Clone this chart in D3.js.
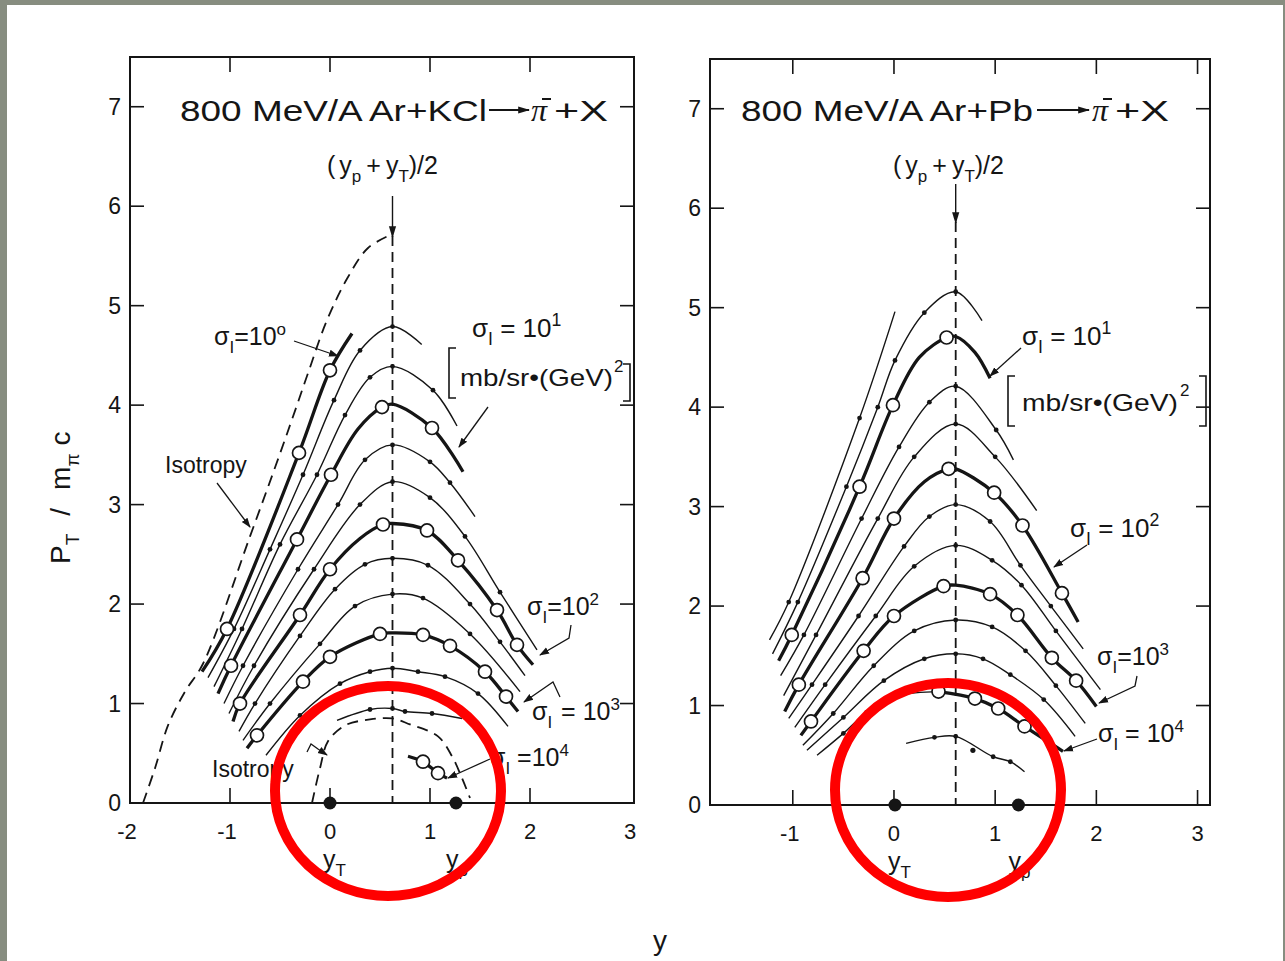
<!DOCTYPE html>
<html><head><meta charset="utf-8">
<script src="https://cdn.jsdelivr.net/npm/d3@7"></script>
<style>
body{margin:0;background:#fff;}
svg{display:block;}
text{font-family:'Liberation Sans',Arial,sans-serif;fill:#151515;}
</style>
</head><body>
<svg id="c" width="1285" height="961"></svg>
<script>
// ---------------- DATA ----------------
const yTicks=[0,1,2,3,4,5,6,7];
const leftXTicks=[-2,-1,0,1,2,3];
const rightXTicks=[-1,0,1,2,3];
const leftFrameXTicks=[-1,0,1,2];
const rightFrameXTicks=[-1,0,1,2,3];
const leftMid=0.625, rightMid=0.61;
const leftBeam=[0,1.26], rightBeam=[0.01,1.23];

// left panel: Ar+KCl  (y, pT/m c)
const L_iso=[[-1.87,0],[-1.75,0.35],[-1.62,0.78],[-1.45,1.12],[-1.27,1.4],[-0.8,2.68],[-0.54,3.4],[-0.375,3.87],[-0.21,4.35],[-0.04,4.83],[0.17,5.27],[0.38,5.58],[0.625,5.72]];
const L_iso2=[[-0.18,0],[-0.1,0.35],[-0.02,0.62],[0.15,0.78],[0.4,0.84],[0.625,0.85],[0.8,0.79],[1.08,0.67],[1.22,0.47],[1.32,0.25],[1.4,0.05]];
const L_T0=[[-1.28,1.32],[-1.03,1.75],[-0.31,3.52],[0,4.35],[0.22,4.72]];
const L_c479=[[-1.22,1.26],[-0.96,1.75],[-0.6,2.55],[-0.27,3.3],[0.04,4.05],[0.3,4.55],[0.625,4.79],[0.917,4.61]];
const L_c439=[[-1.16,1.17],[-0.88,1.75],[-0.5,2.6],[-0.13,3.3],[0.15,3.9],[0.4,4.28],[0.625,4.39],[1.03,4.15],[1.27,3.79]];
const L_T1=[[-1.12,1.1],[-0.99,1.38],[-0.33,2.65],[0.01,3.3],[0.28,3.76],[0.52,3.98],[0.625,4.01],[1.02,3.77],[1.33,3.33]];
const L_c360=[[-1.06,1.0],[-0.87,1.38],[-0.32,2.35],[0.08,3.0],[0.35,3.45],[0.625,3.60],[1.0,3.43],[1.2,3.22],[1.45,2.88]];
const L_c323=[[-1.01,0.9],[-0.76,1.38],[-0.16,2.35],[0.3,3.0],[0.625,3.23],[1.0,3.07],[1.35,2.68],[1.7,2.12],[2.07,1.54]];
const L_T2=[[-0.97,0.82],[-0.9,1.0],[-0.3,1.89],[0,2.35],[0.3,2.66],[0.53,2.80],[0.625,2.81],[0.97,2.74],[1.28,2.44],[1.67,1.94],[1.87,1.59],[2.03,1.39]];
const L_c246=[[-0.91,0.72],[-0.75,1.0],[-0.3,1.68],[0.05,2.15],[0.35,2.4],[0.625,2.46],[0.98,2.39],[1.4,2.0],[1.7,1.62],[1.95,1.28]];
const L_c209=[[-0.87,0.63],[-0.6,1.0],[-0.1,1.6],[0.25,1.98],[0.625,2.10],[0.93,2.06],[1.4,1.7],[1.9,1.12]];
const L_T3=[[-0.83,0.55],[-0.73,0.68],[-0.27,1.22],[0,1.47],[0.5,1.70],[0.625,1.71],[0.93,1.69],[1.2,1.58],[1.55,1.32],[1.76,1.07],[1.88,0.92]];
const L_c134=[[-0.64,0.48],[-0.3,0.88],[0.1,1.2],[0.4,1.32],[0.625,1.355],[0.88,1.32],[1.15,1.27],[1.48,1.10],[1.78,0.77]];
const L_c094=[[0.07,0.83],[0.4,0.94],[0.625,0.95],[0.75,0.92],[1.02,0.90],[1.32,0.85]];
const L_T4=[[0.78,0.47],[0.93,0.415],[1.08,0.30],[1.17,0.25]];
const L_open=[[-1.03,1.75],[-0.31,3.52],[0,4.35],
  [-0.99,1.38],[-0.33,2.65],[0.01,3.3],[0.52,3.98],[1.02,3.77],
  [-0.9,1.0],[-0.3,1.89],[0,2.35],[0.53,2.80],[0.97,2.74],[1.28,2.44],[1.67,1.94],[1.87,1.59],
  [-0.73,0.68],[-0.27,1.22],[0,1.47],[0.5,1.70],[0.93,1.69],[1.2,1.58],[1.55,1.32],[1.76,1.07],
  [0.93,0.415],[1.08,0.30]];

// right panel: Ar+Pb
const R_L0=[[-1.23,1.66],[-1.04,2.04],[-0.34,3.89],[0.01,4.96]];
const R_c516=[[-1.2,1.52],[-0.95,2.04],[-0.47,3.2],[-0.16,4.0],[0.01,4.47],[0.3,4.95],[0.61,5.16],[0.87,4.87]];
const R_T1=[[-1.14,1.45],[-1.01,1.71],[-0.34,3.2],[-0.01,4.02],[0.25,4.5],[0.52,4.70],[0.61,4.71],[0.8,4.55],[0.95,4.29]];
const R_c421=[[-1.12,1.3],[-0.89,1.71],[-0.32,2.88],[0.05,3.6],[0.35,4.05],[0.61,4.21],[1.01,3.77],[1.18,3.47]];
const R_c383=[[-1.09,1.1],[-0.77,1.71],[-0.16,2.88],[0.2,3.5],[0.61,3.83],[1.0,3.5],[1.41,2.96]];
const R_T2=[[-1.08,0.94],[-0.94,1.21],[-0.31,2.28],[0,2.88],[0.3,3.25],[0.54,3.38],[0.61,3.38],[0.99,3.14],[1.27,2.81],[1.66,2.13],[1.82,1.84]];
const R_c302=[[-1.04,0.87],[-0.81,1.21],[-0.35,1.9],[0.1,2.6],[0.35,2.9],[0.61,3.02],[0.95,2.85],[1.25,2.41],[1.55,2.0],[1.87,1.57]];
const R_c261=[[-0.98,0.78],[-0.68,1.21],[-0.18,1.9],[0.2,2.4],[0.61,2.61],[0.97,2.46],[1.26,2.21],[1.6,1.75],[2.04,1.16]];
const R_T3=[[-0.92,0.70],[-0.82,0.84],[-0.30,1.55],[0,1.90],[0.49,2.20],[0.61,2.21],[0.95,2.12],[1.22,1.91],[1.56,1.48],[1.80,1.25],[2.0,0.99]];
const R_c187=[[-0.9,0.6],[-0.6,0.92],[-0.2,1.4],[0.2,1.75],[0.61,1.86],[0.97,1.79],[1.3,1.55],[1.6,1.2],[1.89,0.82]];
const R_c153=[[-0.86,0.55],[-0.5,0.88],[-0.1,1.25],[0.3,1.47],[0.61,1.52],[0.88,1.47],[1.15,1.31],[1.48,1.06],[1.79,0.69]];
const R_c114=[[-0.76,0.5],[-0.5,0.72],[-0.27,0.93],[0.05,1.1],[0.44,1.14]];
const R_T4=[[0.44,1.14],[0.8,1.07],[1.03,0.97],[1.29,0.79],[1.67,0.54]];
const R_c069=[[0.12,0.62],[0.4,0.68],[0.61,0.69],[0.98,0.485],[1.15,0.435],[1.29,0.335]];
const R_extra=[[0.78,0.55]];
const R_open=[[-1.01,1.71],[-0.34,3.2],[-0.01,4.02],[0.52,4.70],
  [-0.94,1.21],[-0.31,2.28],[0,2.88],[0.54,3.38],[0.99,3.14],[1.27,2.81],[1.66,2.13],
  [-0.82,0.84],[-0.30,1.55],[0,1.90],[0.49,2.20],[0.95,2.12],[1.22,1.91],[1.56,1.48],[1.80,1.25],
  [0.44,1.14],[0.8,1.07],[1.03,0.97],[1.29,0.79]];

// ---------------- DRAW ----------------
const svg=d3.select('#c');
const INK='#151515';
svg.append('rect').attr('width',1285).attr('height',961).attr('fill','#878d80');
svg.append('rect').attr('x',7).attr('y',5).attr('width',1276).attr('height',956).attr('fill','#fff');

const defs=svg.append('defs');
defs.append('marker').attr('id','ah').attr('viewBox','0 0 10 10').attr('refX',9).attr('refY',5)
  .attr('markerWidth',10).attr('markerHeight',10).attr('markerUnits','userSpaceOnUse').attr('orient','auto')
  .append('path').attr('d','M0,1.5 L10,5 L0,8.5 Z').attr('fill',INK);
defs.append('marker').attr('id','ahB').attr('viewBox','0 0 10 10').attr('refX',9).attr('refY',5)
  .attr('markerWidth',12).attr('markerHeight',12).attr('markerUnits','userSpaceOnUse').attr('orient','auto')
  .append('path').attr('d','M0,2 L10,5 L0,8 Z').attr('fill',INK);

function rich(x,y,size,parts,opts={}){
  const t=svg.append('text').attr('x',x).attr('y',y).attr('font-size',size);
  if(opts.anchor) t.attr('text-anchor',opts.anchor);
  if(opts.transform) t.attr('transform',opts.transform);
  if(opts.ls!==undefined) t.attr('letter-spacing',opts.ls);
  let cur=0;
  parts.forEach(p=>{
    const [s,type,ex]=p;
    const off= type==='sub'? size*0.32 : type==='sup'? -size*0.42 : 0;
    const ts=t.append('tspan').attr('dy',off-cur).text(s);
    if(type==='sub'||type==='sup') ts.attr('font-size',size*0.68);
    if(ex){ if(ex.dx!==undefined) ts.attr('dx',ex.dx); if(ex.family) ts.style('font-family',ex.family); if(ex.italic) ts.attr('font-style','italic'); if(ex.size) ts.attr('font-size',ex.size);}
    cur=off;
  });
  return t;
}
function arrow(pts,marker='ah',w=1.3){
  svg.append('path').attr('d',d3.line()(pts)).attr('fill','none').attr('stroke',INK).attr('stroke-width',w).attr('marker-end',`url(#${marker})`);
}

function panel(cfg){
  const x=d3.scaleLinear().domain(cfg.xd).range(cfg.xr);
  const y=d3.scaleLinear().domain([0,7.5]).range(cfg.yr);
  const g=svg.append('g');
  const [x0,x1]=cfg.xr, [yb,yt]=cfg.yr;
  yTicks.filter(v=>v>0).forEach(v=>{
    g.append('line').attr('x1',x0).attr('x2',x0+14).attr('y1',y(v)).attr('y2',y(v)).attr('stroke',INK).attr('stroke-width',1.6);
    g.append('line').attr('x1',x1-14).attr('x2',x1).attr('y1',y(v)).attr('y2',y(v)).attr('stroke',INK).attr('stroke-width',1.6);
  });
  cfg.frameTicks.forEach(v=>{
    g.append('line').attr('x1',x(v)).attr('x2',x(v)).attr('y1',yt).attr('y2',yt+15).attr('stroke',INK).attr('stroke-width',1.6);
    g.append('line').attr('x1',x(v)).attr('x2',x(v)).attr('y1',yb).attr('y2',yb-15).attr('stroke',INK).attr('stroke-width',1.6);
  });
  g.append('rect').attr('x',x0).attr('y',yt).attr('width',x1-x0).attr('height',yb-yt).attr('fill','none').attr('stroke',INK).attr('stroke-width',2);
  yTicks.forEach(v=>{
    g.append('text').attr('x',x0-9).attr('y',y(v)+8).attr('text-anchor','end').attr('font-size',23).text(v);
  });
  cfg.xLabels.forEach(v=>{
    g.append('text').attr('x',x(v)+(v<0?-3:0)).attr('y',yb+36).attr('text-anchor','middle').attr('font-size',22).text(v<0?'-'+Math.abs(v):v);
  });
  g.append('line').attr('x1',x(cfg.mid)).attr('x2',x(cfg.mid)).attr('y1',cfg.dashTop).attr('y2',yb)
   .attr('stroke',INK).attr('stroke-width',1.8).attr('stroke-dasharray','10,6');
  arrow([[x(cfg.mid),cfg.arrowTop],[x(cfg.mid),cfg.dashTop+1]],'ahB',1.4);
  const line=d3.line().x(d=>x(d[0])).y(d=>y(d[1])).curve(d3.curveCatmullRom.alpha(0.5));
  cfg.curves.forEach(([pts,style])=>{
    const p=g.append('path').attr('d',line(pts)).attr('fill','none').attr('stroke',INK);
    if(style==='thick') p.attr('stroke-width',3.3);
    else if(style==='dash') p.attr('stroke-width',1.8).attr('stroke-dasharray','11,7');
    else p.attr('stroke-width',1.4);
    if(style==='thin'){
      g.selectAll(null).data(pts.slice(1,-1)).enter().append('circle')
        .attr('cx',d=>x(d[0])).attr('cy',d=>y(d[1])).attr('r',2.4).attr('fill',INK);
    }
  });
  g.selectAll(null).data(cfg.extraDots||[]).enter().append('circle')
    .attr('cx',d=>x(d[0])).attr('cy',d=>y(d[1])).attr('r',2.6).attr('fill',INK);
  g.selectAll(null).data(cfg.open).enter().append('circle')
    .attr('cx',d=>x(d[0])).attr('cy',d=>y(d[1])).attr('r',6.5).attr('fill','#fff').attr('stroke',INK).attr('stroke-width',1.7);
  g.selectAll(null).data(cfg.beam).enter().append('circle')
    .attr('cx',d=>x(d)).attr('cy',y(0)).attr('r',6.5).attr('fill',INK);
  rich(x(cfg.beam[0])-7,yb+65,25,[['y','n'],['T','sub']],{anchor:'start'});
  rich(x(cfg.beam[1])-10,yb+65,25,[['y','n'],['p','sub']],{anchor:'start'});
  return {x,y};
}

const L=panel({xd:[-2,3.04],xr:[130,634],yr:[803,57],frameTicks:leftFrameXTicks,xLabels:leftXTicks,
  mid:leftMid,dashTop:236,arrowTop:196,beam:leftBeam,open:L_open,
  curves:[[L_iso,'dash'],[L_iso2,'dash'],[L_T0,'thick'],[L_c479,'thin'],[L_c439,'thin'],[L_T1,'thick'],
    [L_c360,'thin'],[L_c323,'thin'],[L_T2,'thick'],[L_c246,'thin'],[L_c209,'thin'],[L_T3,'thick'],
    [L_c134,'thin'],[L_c094,'thin'],[L_T4,'thick']]});
const R=panel({xd:[-1.818,3.123],xr:[710,1210],yr:[805,59],frameTicks:rightFrameXTicks,xLabels:rightXTicks,
  mid:rightMid,dashTop:222,arrowTop:184,beam:rightBeam,open:R_open,extraDots:R_extra,
  curves:[[R_L0,'thin'],[R_c516,'thin'],[R_T1,'thick'],[R_c421,'thin'],[R_c383,'thin'],[R_T2,'thick'],
    [R_c302,'thin'],[R_c261,'thin'],[R_T3,'thick'],[R_c187,'thin'],[R_c153,'thin'],[R_c114,'thin'],
    [R_T4,'thick'],[R_c069,'thin']]});

// ---------------- TITLES ----------------
function title(x0,w,arrowX0,arrowX1,piX,head){
  svg.append('text').attr('x',x0).attr('y',121).attr('font-size',29).attr('textLength',w).attr('lengthAdjust','spacingAndGlyphs').text(head);
  arrow([[arrowX0,110],[arrowX1,110]],'ahB',1.8);
  svg.append('text').attr('x',piX).attr('y',121).attr('font-size',32).style('font-family',"'Liberation Serif',serif").attr('font-style','italic').text('π');
  svg.append('line').attr('x1',piX+11).attr('x2',piX+20).attr('y1',99).attr('y2',99).attr('stroke',INK).attr('stroke-width',2);
  svg.append('text').attr('x',piX+23).attr('y',121).attr('font-size',29).attr('textLength',54).attr('lengthAdjust','spacingAndGlyphs').text('+X');
}
title(180,307,489,529,531,'800 MeV/A Ar+KCl');
title(741,292,1037,1089,1092,'800 MeV/A Ar+Pb');

function midLabel(x){
  rich(x,174,25,[['(','n'],['y','n',{dx:4}],['p','sub'],['+','n',{dx:5}],['y','n',{dx:5}],['T','sub'],[')/2','n']],{});
}
midLabel(327);
midLabel(893);

// axis titles
rich(0,0,28,[['P','n'],['T','sub'],['/','n',{dx:18}],['m','n',{dx:18}],['π','sub'],['c','n',{dx:8}]],
  {transform:'translate(70,564) rotate(-90)'});
svg.append('text').attr('x',660).attr('y',950).attr('font-size',28).attr('text-anchor','middle').text('y');

// ---------------- ANNOTATIONS (left) ----------------
rich(214,345,25,[['σ','n'],['I','sub'],['=10','n'],['o','sup']]);
arrow([[294,341],[338,356]]);
rich(472,337,26,[['σ','n'],['I','sub'],[' = 10','n'],['1','sup']]);
svg.append('text').attr('x',460).attr('y',386).attr('font-size',24).attr('textLength',153).attr('lengthAdjust','spacingAndGlyphs').text('mb/sr•(GeV)');
svg.append('text').attr('x',614).attr('y',372).attr('font-size',17).text('2');
svg.append('path').attr('d','M456,348 L449,348 L449,398 L456,398').attr('fill','none').attr('stroke',INK).attr('stroke-width',1.6);
svg.append('path').attr('d','M623,364 L630,364 L630,401 L623,401').attr('fill','none').attr('stroke',INK).attr('stroke-width',1.6);
arrow([[488,407],[459,447]]);
svg.append('text').attr('x',165).attr('y',473).attr('font-size',23).text('Isotropy');
arrow([[217,483],[250,527]]);
rich(527,615,25,[['σ','n'],['I','sub'],['=10','n'],['2','sup']]);
arrow([[571,625],[569,638],[540,655]]);
rich(532,720,25,[['σ','n'],['I','sub'],[' = 10','n',{dx:2}],['3','sup']]);
arrow([[560,697],[553,682],[524,702]]);
svg.append('text').attr('x',212).attr('y',777).attr('font-size',23).text('Isotropy');
arrow([[307,752],[311,744],[318,749],[327,755]],'ah',1.3);
rich(490,766,25,[['σ','n'],['I','sub'],[' =10','n'],['4','sup']]);
arrow([[490,759],[448,778]]);

// ---------------- ANNOTATIONS (right) ----------------
rich(1022,345,26,[['σ','n'],['I','sub'],[' = 10','n'],['1','sup']]);
arrow([[1021,348],[990,376]]);
svg.append('text').attr('x',1022).attr('y',411).attr('font-size',24).attr('textLength',156).attr('lengthAdjust','spacingAndGlyphs').text('mb/sr•(GeV)');
svg.append('text').attr('x',1180).attr('y',396).attr('font-size',17).text('2');
svg.append('path').attr('d','M1015,376 L1008,376 L1008,426 L1015,426').attr('fill','none').attr('stroke',INK).attr('stroke-width',1.6);
svg.append('path').attr('d','M1199,376 L1206,376 L1206,426 L1199,426').attr('fill','none').attr('stroke',INK).attr('stroke-width',1.6);
rich(1070,537,26,[['σ','n'],['I','sub'],[' = 10','n'],['2','sup']]);
arrow([[1087,545],[1054,567]]);
rich(1097,665,25,[['σ','n'],['I','sub'],['=10','n'],['3','sup']]);
arrow([[1137,676],[1135,686],[1099,703]]);
rich(1098,742,25,[['σ','n'],['I','sub'],[' = 10','n'],['4','sup']]);
arrow([[1097,739],[1064,751]]);

// ---------------- red highlight rings ----------------
svg.append('ellipse').attr('cx',388).attr('cy',791).attr('rx',113).attr('ry',105).attr('fill','none').attr('stroke','#ff0000').attr('stroke-width',10);
svg.append('ellipse').attr('cx',948).attr('cy',790).attr('rx',113).attr('ry',107).attr('fill','none').attr('stroke','#ff0000').attr('stroke-width',10);
</script>
</body></html>
